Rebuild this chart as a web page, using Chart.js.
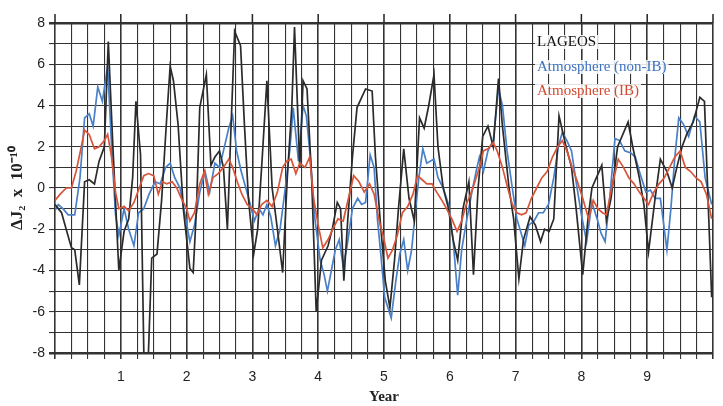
<!DOCTYPE html>
<html>
<head>
<meta charset="utf-8">
<script src="https://cdn.jsdelivr.net/npm/chart.js@4.4.1/dist/chart.umd.min.js"></script>
<style>
  html, body { margin: 0; padding: 0; background: #fff; }
  #wrap { width: 723px; height: 406px; }
</style>
</head>
<body>
<div id="wrap"><canvas id="mycanvas" width="723" height="406"></canvas></div>
<script>
// series (year, value x 1e-10)
var lageosT = [0.00,0.05,0.10,0.17,0.25,0.30,0.37,0.45,0.52,0.60,0.67,0.75,0.81,0.88,0.97,1.05,1.12,1.18,1.23,1.30,1.35,1.42,1.47,1.55,1.62,1.70,1.75,1.80,1.87,1.95,2.05,2.10,2.15,2.20,2.30,2.37,2.43,2.50,2.56,2.62,2.67,2.73,2.82,2.88,2.94,3.02,3.08,3.15,3.22,3.30,3.38,3.46,3.53,3.60,3.64,3.72,3.77,3.83,3.90,3.97,4.05,4.15,4.22,4.29,4.34,4.39,4.45,4.52,4.59,4.72,4.82,4.87,4.94,5.02,5.09,5.16,5.22,5.30,5.38,5.46,5.54,5.61,5.68,5.76,5.82,5.90,5.98,6.05,6.12,6.20,6.29,6.36,6.43,6.50,6.58,6.66,6.74,6.80,6.90,6.97,7.05,7.12,7.22,7.30,7.38,7.44,7.51,7.58,7.62,7.66,7.76,7.85,7.92,8.02,8.10,8.16,8.31,8.38,8.45,8.55,8.71,8.78,8.88,8.95,9.02,9.12,9.20,9.30,9.38,9.45,9.53,9.60,9.70,9.80,9.87,9.93,9.98];
var lageosV = [-0.8,-1.0,-1.2,-2.0,-2.9,-3.0,-4.7,0.3,0.4,0.2,1.3,2.0,7.1,2.0,-4.0,-2.1,-1.5,0.5,4.2,1.6,-8.0,-8.0,-3.4,-3.2,-0.6,3.5,5.9,5.2,3.1,-1.0,-3.9,-4.1,-1.0,3.9,5.5,1.1,1.5,1.8,1.0,-2.0,2.5,7.6,6.9,3.0,-0.5,-3.2,-2.0,1.5,5.2,0.0,-2.0,-4.1,0.5,4.0,7.8,1.0,5.2,4.8,0.5,-6.0,-3.5,-2.8,-1.9,-0.7,-1.0,-4.5,-1.5,1.5,3.9,4.8,4.7,1.5,-1.5,-4.5,-5.8,-3.5,-1.0,1.9,-0.5,-1.6,3.4,2.9,4.0,5.5,2.0,0.0,-1.0,-2.5,-3.5,-1.0,0.3,-4.2,0.0,2.5,3.0,2.0,5.3,3.0,0.0,-1.5,-4.4,-2.5,-1.4,-1.8,-2.6,-2.0,-2.1,-1.5,1.0,3.5,2.1,1.0,-1.0,-4.2,-1.5,0.0,1.1,-1.6,-0.5,2.0,3.2,2.0,0.5,-0.8,-3.1,-0.5,1.4,0.8,0.0,1.0,2.0,2.6,3.2,4.4,4.2,-1.0,-5.3];

var nonIbT = [0.00,0.05,0.12,0.20,0.30,0.38,0.45,0.52,0.58,0.65,0.72,0.80,0.86,0.92,0.97,1.05,1.12,1.20,1.27,1.35,1.43,1.52,1.60,1.68,1.75,1.82,1.90,1.97,2.05,2.12,2.20,2.28,2.35,2.43,2.50,2.56,2.64,2.70,2.76,2.83,2.90,2.96,3.03,3.10,3.16,3.22,3.28,3.35,3.42,3.50,3.57,3.62,3.70,3.77,3.82,3.88,3.95,4.03,4.09,4.14,4.20,4.26,4.32,4.38,4.44,4.52,4.60,4.66,4.72,4.79,4.85,4.90,4.96,5.01,5.11,5.18,5.24,5.30,5.36,5.42,5.48,5.53,5.59,5.65,5.76,5.82,5.90,5.98,6.05,6.12,6.18,6.26,6.33,6.40,6.45,6.51,6.58,6.66,6.74,6.80,6.87,6.95,7.02,7.14,7.20,7.28,7.35,7.42,7.50,7.58,7.65,7.71,7.78,7.85,7.92,8.00,8.08,8.16,8.24,8.30,8.36,8.43,8.51,8.58,8.66,8.75,8.82,8.90,8.98,9.05,9.12,9.20,9.30,9.36,9.42,9.48,9.55,9.63,9.72,9.80,9.88,9.98];
var nonIbV = [-1.1,-0.8,-1.0,-1.3,-1.3,0.5,3.4,3.6,3.0,4.9,4.2,5.9,2.0,-1.3,-2.3,-1.0,-2.0,-2.8,-1.2,-1.0,-0.3,0.3,0.2,1.0,1.2,0.5,0.0,-1.2,-2.6,-1.8,-0.2,0.8,-0.2,1.2,1.0,1.8,2.9,3.5,1.8,0.8,0.0,-0.7,-1.6,-1.0,-1.3,-0.8,-1.4,-2.8,-2.0,0.0,1.9,3.9,1.3,4.0,3.5,1.5,-1.5,-3.5,-4.2,-5.0,-4.0,-3.0,-2.5,-3.8,-2.8,-1.0,-0.5,-0.8,-0.7,1.6,1.0,-1.5,-3.5,-5.3,-6.3,-4.5,-3.2,-2.5,-4.0,-3.0,-1.0,0.5,1.9,1.2,1.4,0.5,0.0,-0.8,-2.5,-5.2,-3.0,-1.5,-0.3,0.8,1.5,0.8,1.8,2.3,4.8,4.0,1.8,0.0,-1.5,-2.8,-1.8,-1.6,-1.2,-1.2,-0.8,0.5,2.0,2.7,2.3,1.8,0.3,-1.3,-2.6,-0.7,-1.5,-2.2,-2.6,-0.5,2.4,2.3,1.8,1.7,1.5,0.6,-0.2,-0.1,-0.5,-0.5,-3.0,-1.0,1.5,3.4,3.1,2.5,3.5,3.2,0.5,-0.8];

var ibT = [0.00,0.08,0.17,0.25,0.32,0.40,0.45,0.52,0.60,0.67,0.75,0.80,0.86,0.92,0.97,1.05,1.12,1.20,1.28,1.35,1.42,1.50,1.57,1.63,1.70,1.78,1.85,1.92,2.00,2.05,2.12,2.20,2.27,2.33,2.40,2.48,2.56,2.64,2.70,2.77,2.84,2.92,3.00,3.07,3.14,3.22,3.30,3.38,3.46,3.52,3.59,3.66,3.72,3.80,3.87,3.93,4.00,4.07,4.15,4.22,4.30,4.38,4.46,4.54,4.62,4.70,4.78,4.85,4.92,5.00,5.06,5.13,5.20,5.28,5.36,5.44,5.51,5.58,5.65,5.73,5.80,5.88,5.95,6.03,6.11,6.18,6.25,6.33,6.40,6.47,6.51,6.58,6.66,6.72,6.80,6.88,6.95,7.02,7.09,7.16,7.24,7.32,7.40,7.48,7.56,7.64,7.71,7.78,7.86,7.94,8.02,8.11,8.18,8.25,8.32,8.38,8.46,8.56,8.64,8.72,8.80,8.88,8.95,9.02,9.10,9.18,9.26,9.34,9.42,9.50,9.58,9.66,9.74,9.82,9.90,9.98];
var ibV = [-0.6,-0.3,0.0,0.0,0.8,2.0,2.8,2.6,1.9,2.0,2.3,2.6,1.5,-0.2,-1.0,-0.9,-1.1,-0.7,0.0,0.6,0.7,0.6,-0.3,0.3,0.2,0.3,0.0,-0.5,-1.0,-1.6,-1.2,0.2,0.8,-0.3,0.5,0.7,1.0,1.4,1.0,0.3,-0.3,-0.8,-1.0,-1.3,-0.8,-0.6,-0.9,-0.2,1.0,1.3,1.4,0.7,1.2,1.0,1.5,-0.5,-1.8,-2.9,-2.5,-2.0,-1.5,-1.6,-0.5,0.6,0.3,-0.2,0.2,-0.3,-1.5,-2.5,-3.4,-3.0,-2.3,-1.2,-0.9,-0.3,0.6,0.4,0.2,0.2,-0.2,-0.6,-1.0,-1.5,-2.1,-1.6,-0.8,-0.2,0.5,1.2,1.8,1.9,2.2,1.8,1.0,0.0,-0.8,-1.2,-1.3,-1.2,-0.5,0.0,0.5,0.8,1.5,2.0,2.3,1.8,1.0,0.3,-0.5,-1.5,-0.6,-1.0,-1.2,-1.3,0.0,1.4,1.0,0.5,0.2,-0.2,-0.5,-0.8,-0.2,0.2,0.5,1.0,1.5,1.8,1.0,0.8,0.5,0.3,-0.3,-1.5];

var seriesNames = ["LAGEOS", "Atmosphere (non-IB)", "Atmosphere (IB)"];
var xTickLabels = ["1","2","3","4","5","6","7","8","9"];
var yTickLabels = ["-8","-6","-4","-2","0","2","4","6","8"];

function pts(t, v) {
  return t.map(function(x, i){ return {x: x, y: v[i]}; });
}

// legend drawn as plain coloured text inside the plot, upper right
var textLegend = {
  id: 'textLegend',
  afterDatasetsDraw: function(chart) {
    var ctx = chart.ctx;
    ctx.save();
    ctx.font = '15px "Liberation Serif", serif';
    ctx.textBaseline = 'middle';
    var ys = [42, 67, 91];
    chart.data.datasets.forEach(function(ds, i){
      var w = ctx.measureText(ds.label).width;
      ctx.fillStyle = 'rgba(255,255,255,0.85)';
      ctx.fillRect(535, ys[i] - 7, w + 4, 14);
      ctx.fillStyle = ds.textColor;
      ctx.fillText(ds.label, 537, ys[i]);
    });
    ctx.restore();
  }
};

// integer year ticks poke out above the top frame
var topTicks = {
  id: 'topTicks',
  afterDraw: function(chart) {
    var ctx = chart.ctx, xs = chart.scales.x, top = chart.chartArea.top;
    ctx.save();
    ctx.strokeStyle = '#222';
    ctx.lineWidth = 1.5;
    for (var i = 0; i <= 10; i++) {
      var px = xs.getPixelForValue(i);
      ctx.beginPath(); ctx.moveTo(px, top); ctx.lineTo(px, top - 9); ctx.stroke();
    }
    ctx.restore();
  }
};

var ctx = document.getElementById('mycanvas');
var chart = new Chart(ctx, {
  type: 'line',
  data: {
    datasets: [{
      label: seriesNames[0],
      data: pts(lageosT, lageosV),
      borderColor: '#2b2b2b',
      textColor: '#111',
      borderWidth: 1.7,
      order: 1
    }, {
      label: seriesNames[1],
      data: pts(nonIbT, nonIbV),
      borderColor: '#4a80c8',
      textColor: '#3d72c0',
      borderWidth: 1.7,
      order: 2
    }, {
      label: seriesNames[2],
      data: pts(ibT, ibV),
      borderColor: '#d8553a',
      textColor: '#d34a30',
      borderWidth: 1.7,
      order: 0
    }]
  },
  options: {
    responsive: false,
    devicePixelRatio: 1,
    animation: false,
    elements: { point: { radius: 0 }, line: { tension: 0 } },
    layout: { padding: { left: 0, right: 0, top: 23, bottom: 0 } },
    plugins: { legend: { display: false }, tooltip: { enabled: false } },
    scales: {
      x: {
        type: 'linear',
        min: 0, max: 10,
        afterFit: function(s){ s.height = 53; },
        afterBuildTicks: function(s){
          var t = [];
          for (var i = 0; i <= 40; i++) t.push({value: i * 0.25});
          s.ticks = t;
        },
        ticks: {
          autoSkip: false, maxRotation: 0, padding: 10,
          color: '#222',
          font: { family: '"Liberation Sans", Arial, sans-serif', size: 14 },
          callback: function(v){
            var k = xTickLabels.indexOf(String(v));
            return k >= 0 ? xTickLabels[k] : '';
          }
        },
        grid: {
          color: '#333',
          tickColor: '#333',
          tickLength: 6,
          lineWidth: function(c){ return c.tick && Number.isInteger(c.tick.value) ? 1.6 : 1.1; }
        },
        border: { display: false },
        title: {
          display: true, text: 'Year', color: '#222',
          padding: { top: 0, bottom: 0 },
          font: { family: '"Liberation Serif", serif', size: 15, weight: 'bold' }
        }
      },
      y: {
        min: -8, max: 8,
        afterFit: function(s){ s.width = 55; },
        ticks: {
          stepSize: 1, autoSkip: false, padding: 4,
          color: '#222',
          font: { family: '"Liberation Sans", Arial, sans-serif', size: 14 },
          callback: function(v){
            var k = yTickLabels.indexOf(String(v));
            return k >= 0 ? yTickLabels[k] : '';
          }
        },
        grid: {
          color: '#333',
          tickColor: '#333',
          tickLength: 6,
          lineWidth: function(c){ return c.tick && Math.abs(c.tick.value) === 8 ? 2.5 : 1.1; }
        },
        border: { display: false },
        title: {
          display: true, text: 'ΔJ₂  x  10⁻¹⁰', color: '#222',
          padding: { top: 7, bottom: 0 },
          font: { family: '"Liberation Serif", serif', size: 17, weight: 'bold' }
        }
      }
    }
  },
  plugins: [textLegend, topTicks]
});
</script>
</body>
</html>
